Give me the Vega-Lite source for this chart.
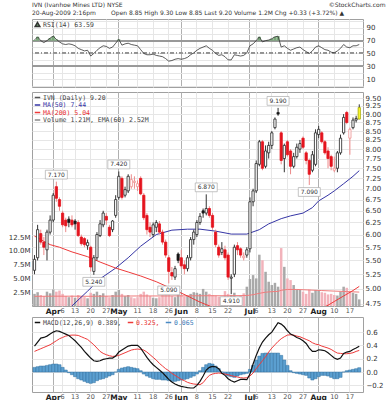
{
"$schema": "https://vega.github.io/schema/vega-lite/v6.json",
"background": "white",
"padding": {"left": 7, "top": 1, "right": 2, "bottom": 0},
"spacing": 1,
"datasets": {
"px": [
{"d":"2009-03-24","o":5.32,"h":5.6,"l":5.25,"c":5.52,"v":2.2,"rsi":71,"m":0.39,"s":0.31,"hi":0.07},
{"d":"2009-03-25","o":5.55,"h":6.2,"l":5.5,"c":6.1,"v":2.5,"rsi":76,"m":0.45,"s":0.33,"hi":0.08},
{"d":"2009-03-26","o":6.02,"h":6.1,"l":5.8,"c":5.85,"v":2.0,"rsi":70,"m":0.51,"s":0.35,"hi":0.09},
{"d":"2009-03-27","o":5.85,"h":5.95,"l":5.6,"c":5.75,"v":1.8,"rsi":67,"m":0.52,"s":0.37,"hi":0.09},
{"d":"2009-03-30","o":5.7,"h":6.1,"l":5.5,"c":6.05,"v":2.6,"rsi":70,"m":0.54,"s":0.39,"hi":0.1},
{"d":"2009-03-31","o":6.05,"h":6.4,"l":6.0,"c":6.3,"v":2.3,"rsi":74,"m":0.57,"s":0.41,"hi":0.11},
{"d":"2009-04-01","o":6.3,"h":6.9,"l":6.25,"c":6.85,"v":3.0,"rsi":77,"m":0.6,"s":0.44,"hi":0.12},
{"d":"2009-04-02","o":7.05,"h":7.17,"l":6.7,"c":6.78,"v":2.6,"rsi":72,"m":0.62,"s":0.47,"hi":0.12},
{"d":"2009-04-03","o":6.75,"h":6.8,"l":6.5,"c":6.6,"v":2.8,"rsi":68,"m":0.61,"s":0.5,"hi":0.11},
{"d":"2009-04-06","o":6.45,"h":6.5,"l":6.15,"c":6.2,"v":2.2,"rsi":65,"m":0.59,"s":0.52,"hi":0.07},
{"d":"2009-04-07","o":6.3,"h":6.35,"l":6.05,"c":6.18,"v":1.8,"rsi":64,"m":0.57,"s":0.54,"hi":0.03},
{"d":"2009-04-08","o":6.32,"h":6.38,"l":6.15,"c":6.25,"v":1.6,"rsi":65,"m":0.55,"s":0.55,"hi":-0.01},
{"d":"2009-04-09","o":6.3,"h":6.4,"l":6.15,"c":6.2,"v":1.9,"rsi":64,"m":0.51,"s":0.555,"hi":-0.04},
{"d":"2009-04-13","o":6.28,"h":6.32,"l":6.1,"c":6.22,"v":1.5,"rsi":62,"m":0.47,"s":0.555,"hi":-0.07},
{"d":"2009-04-14","o":6.25,"h":6.3,"l":5.95,"c":5.98,"v":2.0,"rsi":58,"m":0.42,"s":0.55,"hi":-0.1},
{"d":"2009-04-15","o":5.95,"h":6.0,"l":5.78,"c":5.82,"v":1.7,"rsi":56,"m":0.37,"s":0.53,"hi":-0.12},
{"d":"2009-04-16","o":5.92,"h":5.95,"l":5.75,"c":5.8,"v":1.6,"rsi":54,"m":0.31,"s":0.51,"hi":-0.14},
{"d":"2009-04-17","o":5.78,"h":5.9,"l":5.7,"c":5.84,"v":1.4,"rsi":55,"m":0.26,"s":0.49,"hi":-0.16},
{"d":"2009-04-20","o":5.75,"h":5.78,"l":5.3,"c":5.38,"v":2.4,"rsi":46,"m":0.21,"s":0.45,"hi":-0.17},
{"d":"2009-04-21","o":5.3,"h":5.6,"l":5.24,"c":5.55,"v":2.2,"rsi":50,"m":0.17,"s":0.41,"hi":-0.16},
{"d":"2009-04-22","o":5.55,"h":6.05,"l":5.5,"c":6.0,"v":2.6,"rsi":55,"m":0.16,"s":0.36,"hi":-0.13},
{"d":"2009-04-23","o":5.98,"h":6.3,"l":5.95,"c":6.22,"v":2.0,"rsi":59,"m":0.17,"s":0.31,"hi":-0.11},
{"d":"2009-04-24","o":6.2,"h":6.5,"l":6.15,"c":6.45,"v":2.3,"rsi":62,"m":0.19,"s":0.28,"hi":-0.1},
{"d":"2009-04-27","o":6.38,"h":6.45,"l":6.2,"c":6.3,"v":1.8,"rsi":61,"m":0.2,"s":0.26,"hi":-0.08},
{"d":"2009-04-28","o":6.15,"h":6.2,"l":5.95,"c":5.98,"v":1.6,"rsi":58,"m":0.21,"s":0.245,"hi":-0.06},
{"d":"2009-04-29","o":6.1,"h":6.3,"l":6.05,"c":6.28,"v":2.0,"rsi":60,"m":0.21,"s":0.235,"hi":-0.04},
{"d":"2009-04-30","o":6.4,"h":6.85,"l":6.35,"c":6.75,"v":2.6,"rsi":66,"m":0.24,"s":0.24,"hi":0.0},
{"d":"2009-05-01","o":6.8,"h":7.42,"l":6.75,"c":7.3,"v":2.9,"rsi":72,"m":0.3,"s":0.25,"hi":0.04},
{"d":"2009-05-04","o":7.25,"h":7.3,"l":6.75,"c":6.8,"v":2.2,"rsi":63,"m":0.33,"s":0.27,"hi":0.06},
{"d":"2009-05-05","o":6.85,"h":7.05,"l":6.8,"c":6.98,"v":1.8,"rsi":65,"m":0.36,"s":0.29,"hi":0.07},
{"d":"2009-05-06","o":6.95,"h":7.35,"l":6.9,"c":7.3,"v":2.0,"rsi":66,"m":0.39,"s":0.31,"hi":0.08},
{"d":"2009-05-07","o":7.05,"h":7.35,"l":7.0,"c":7.22,"v":1.6,"rsi":64,"m":0.4,"s":0.33,"hi":0.07},
{"d":"2009-05-08","o":7.15,"h":7.3,"l":7.0,"c":7.18,"v":1.4,"rsi":63,"m":0.4,"s":0.34,"hi":0.06},
{"d":"2009-05-11","o":7.05,"h":7.2,"l":6.95,"c":7.12,"v":1.6,"rsi":62,"m":0.4,"s":0.345,"hi":0.05},
{"d":"2009-05-12","o":7.25,"h":7.3,"l":6.85,"c":6.88,"v":2.2,"rsi":56,"m":0.36,"s":0.34,"hi":0.02},
{"d":"2009-05-13","o":6.85,"h":6.9,"l":6.3,"c":6.35,"v":2.6,"rsi":50,"m":0.29,"s":0.33,"hi":-0.03},
{"d":"2009-05-14","o":6.4,"h":6.45,"l":6.0,"c":6.1,"v":2.1,"rsi":48,"m":0.22,"s":0.3,"hi":-0.06},
{"d":"2009-05-15","o":6.15,"h":6.25,"l":5.95,"c":6.05,"v":1.8,"rsi":48,"m":0.16,"s":0.26,"hi":-0.08},
{"d":"2009-05-18","o":6.0,"h":6.25,"l":5.95,"c":6.2,"v":1.5,"rsi":49,"m":0.11,"s":0.22,"hi":-0.1},
{"d":"2009-05-19","o":6.15,"h":6.3,"l":6.05,"c":6.25,"v":1.4,"rsi":47,"m":0.07,"s":0.18,"hi":-0.11},
{"d":"2009-05-20","o":6.22,"h":6.28,"l":6.0,"c":6.05,"v":1.6,"rsi":46,"m":0.03,"s":0.13,"hi":-0.11},
{"d":"2009-05-21","o":6.05,"h":6.1,"l":5.8,"c":5.85,"v":2.0,"rsi":45,"m":-0.01,"s":0.09,"hi":-0.12},
{"d":"2009-05-22","o":5.85,"h":5.9,"l":5.55,"c":5.6,"v":2.4,"rsi":42,"m":-0.06,"s":0.05,"hi":-0.12},
{"d":"2009-05-26","o":5.55,"h":5.6,"l":5.09,"c":5.3,"v":3.2,"rsi":38,"m":-0.11,"s":0.02,"hi":-0.13},
{"d":"2009-05-27","o":5.28,"h":5.38,"l":5.15,"c":5.22,"v":1.8,"rsi":39,"m":-0.15,"s":-0.02,"hi":-0.14},
{"d":"2009-05-28","o":5.2,"h":5.4,"l":5.15,"c":5.35,"v":1.6,"rsi":41,"m":-0.18,"s":-0.05,"hi":-0.14},
{"d":"2009-05-29","o":5.62,"h":5.65,"l":5.45,"c":5.5,"v":2.4,"rsi":42,"m":-0.2,"s":-0.08,"hi":-0.13},
{"d":"2009-06-01","o":5.55,"h":5.7,"l":5.35,"c":5.4,"v":2.0,"rsi":41,"m":-0.215,"s":-0.11,"hi":-0.12},
{"d":"2009-06-02","o":5.42,"h":5.5,"l":5.25,"c":5.35,"v":1.7,"rsi":42,"m":-0.225,"s":-0.13,"hi":-0.11},
{"d":"2009-06-03","o":5.35,"h":5.6,"l":5.3,"c":5.55,"v":1.9,"rsi":44,"m":-0.235,"s":-0.155,"hi":-0.1},
{"d":"2009-06-04","o":5.55,"h":5.95,"l":5.5,"c":5.9,"v":2.2,"rsi":48,"m":-0.24,"s":-0.17,"hi":-0.08},
{"d":"2009-06-05","o":5.9,"h":6.1,"l":5.8,"c":6.05,"v":2.5,"rsi":51,"m":-0.24,"s":-0.18,"hi":-0.06},
{"d":"2009-06-08","o":6.0,"h":6.3,"l":5.95,"c":6.25,"v":2.4,"rsi":55,"m":-0.2,"s":-0.185,"hi":-0.03},
{"d":"2009-06-09","o":6.25,"h":6.45,"l":6.2,"c":6.38,"v":2.2,"rsi":58,"m":-0.14,"s":-0.19,"hi":0.02},
{"d":"2009-06-10","o":6.5,"h":6.55,"l":6.35,"c":6.45,"v":3.1,"rsi":60,"m":-0.06,"s":-0.16,"hi":0.07},
{"d":"2009-06-11","o":6.45,"h":6.87,"l":6.4,"c":6.55,"v":2.6,"rsi":62,"m":0.03,"s":-0.1,"hi":0.11},
{"d":"2009-06-12","o":6.55,"h":6.6,"l":6.35,"c":6.4,"v":2.2,"rsi":58,"m":0.07,"s":-0.05,"hi":0.13},
{"d":"2009-06-15","o":6.4,"h":6.45,"l":6.1,"c":6.15,"v":2.0,"rsi":55,"m":0.085,"s":-0.03,"hi":0.12},
{"d":"2009-06-16","o":6.05,"h":6.1,"l":5.75,"c":5.8,"v":1.9,"rsi":50,"m":0.08,"s":-0.02,"hi":0.09},
{"d":"2009-06-17","o":5.75,"h":5.8,"l":5.55,"c":5.6,"v":1.7,"rsi":47,"m":0.05,"s":-0.015,"hi":0.05},
{"d":"2009-06-18","o":5.65,"h":5.85,"l":5.6,"c":5.72,"v":1.6,"rsi":48,"m":-0.02,"s":-0.02,"hi":0.0},
{"d":"2009-06-19","o":5.7,"h":5.78,"l":5.5,"c":5.55,"v":2.7,"rsi":45,"m":-0.05,"s":-0.03,"hi":-0.03},
{"d":"2009-06-22","o":5.6,"h":5.65,"l":5.15,"c":5.2,"v":2.2,"rsi":40,"m":-0.1,"s":-0.04,"hi":-0.06},
{"d":"2009-06-23","o":5.18,"h":5.25,"l":4.91,"c":5.2,"v":2.0,"rsi":40,"m":-0.13,"s":-0.055,"hi":-0.07},
{"d":"2009-06-24","o":5.25,"h":5.8,"l":5.2,"c":5.75,"v":2.4,"rsi":48,"m":-0.15,"s":-0.065,"hi":-0.08},
{"d":"2009-06-25","o":5.78,"h":5.85,"l":5.6,"c":5.7,"v":1.5,"rsi":47,"m":-0.13,"s":-0.075,"hi":-0.06},
{"d":"2009-06-26","o":5.72,"h":5.75,"l":5.55,"c":5.6,"v":1.8,"rsi":46,"m":-0.11,"s":-0.085,"hi":-0.04},
{"d":"2009-06-29","o":5.55,"h":5.65,"l":5.5,"c":5.58,"v":2.3,"rsi":47,"m":-0.11,"s":-0.09,"hi":-0.03},
{"d":"2009-06-30","o":5.6,"h":5.75,"l":5.55,"c":5.7,"v":3.5,"rsi":51,"m":-0.115,"s":-0.085,"hi":-0.02},
{"d":"2009-07-01","o":5.72,"h":6.8,"l":5.65,"c":6.7,"v":4.9,"rsi":62,"m":-0.03,"s":-0.06,"hi":0.04},
{"d":"2009-07-02","o":6.7,"h":7.0,"l":6.6,"c":6.95,"v":5.6,"rsi":65,"m":0.12,"s":-0.015,"hi":0.1},
{"d":"2009-07-06","o":6.95,"h":7.7,"l":6.9,"c":7.62,"v":5.0,"rsi":70,"m":0.25,"s":0.05,"hi":0.18},
{"d":"2009-07-07","o":7.6,"h":8.25,"l":7.55,"c":8.2,"v":9.3,"rsi":76,"m":0.36,"s":0.11,"hi":0.24},
{"d":"2009-07-08","o":8.2,"h":8.25,"l":7.45,"c":7.5,"v":8.3,"rsi":68,"m":0.45,"s":0.17,"hi":0.28},
{"d":"2009-07-09","o":7.55,"h":8.1,"l":7.5,"c":7.95,"v":6.2,"rsi":70,"m":0.51,"s":0.23,"hi":0.285},
{"d":"2009-07-10","o":7.9,"h":8.2,"l":7.75,"c":8.1,"v":4.4,"rsi":71,"m":0.56,"s":0.3,"hi":0.285},
{"d":"2009-07-13","o":8.1,"h":8.5,"l":8.0,"c":8.45,"v":3.8,"rsi":73,"m":0.6,"s":0.36,"hi":0.285},
{"d":"2009-07-14","o":8.6,"h":8.9,"l":8.55,"c":8.85,"v":4.2,"rsi":76,"m":0.67,"s":0.41,"hi":0.285},
{"d":"2009-07-15","o":9.05,"h":9.19,"l":8.95,"c":9.0,"v":3.5,"rsi":77,"m":0.74,"s":0.46,"hi":0.285},
{"d":"2009-07-16","o":8.45,"h":8.5,"l":7.6,"c":7.7,"v":10.5,"rsi":60,"m":0.72,"s":0.5,"hi":0.25},
{"d":"2009-07-17","o":7.75,"h":8.15,"l":7.4,"c":8.1,"v":7.1,"rsi":62,"m":0.68,"s":0.53,"hi":0.18},
{"d":"2009-07-20","o":8.2,"h":8.25,"l":7.8,"c":7.85,"v":5.0,"rsi":58,"m":0.62,"s":0.555,"hi":0.1},
{"d":"2009-07-21","o":7.95,"h":8.0,"l":7.35,"c":7.55,"v":4.7,"rsi":55,"m":0.57,"s":0.56,"hi":0.02},
{"d":"2009-07-22","o":7.55,"h":7.9,"l":7.5,"c":7.8,"v":3.8,"rsi":57,"m":0.55,"s":0.555,"hi":-0.01},
{"d":"2009-07-23","o":7.8,"h":8.15,"l":7.75,"c":8.05,"v":3.0,"rsi":59,"m":0.52,"s":0.54,"hi":-0.02},
{"d":"2009-07-24","o":8.0,"h":8.25,"l":7.9,"c":8.15,"v":2.9,"rsi":60,"m":0.5,"s":0.53,"hi":-0.03},
{"d":"2009-07-27","o":8.3,"h":8.35,"l":8.0,"c":8.05,"v":2.6,"rsi":56,"m":0.47,"s":0.51,"hi":-0.04},
{"d":"2009-07-28","o":7.9,"h":7.95,"l":7.6,"c":7.7,"v":2.2,"rsi":53,"m":0.43,"s":0.49,"hi":-0.05},
{"d":"2009-07-29","o":7.7,"h":7.75,"l":7.09,"c":7.35,"v":3.0,"rsi":50,"m":0.36,"s":0.47,"hi":-0.09},
{"d":"2009-07-30","o":7.45,"h":7.95,"l":7.4,"c":7.85,"v":2.4,"rsi":54,"m":0.31,"s":0.44,"hi":-0.12},
{"d":"2009-07-31","o":7.6,"h":8.55,"l":7.55,"c":8.45,"v":2.9,"rsi":60,"m":0.31,"s":0.42,"hi":-0.1},
{"d":"2009-08-03","o":8.4,"h":8.65,"l":8.3,"c":8.55,"v":2.8,"rsi":62,"m":0.335,"s":0.41,"hi":-0.07},
{"d":"2009-08-04","o":8.45,"h":8.5,"l":8.15,"c":8.2,"v":2.5,"rsi":59,"m":0.33,"s":0.39,"hi":-0.05},
{"d":"2009-08-05","o":8.2,"h":8.25,"l":7.85,"c":7.9,"v":2.4,"rsi":56,"m":0.32,"s":0.375,"hi":-0.05},
{"d":"2009-08-06","o":7.95,"h":8.05,"l":7.5,"c":7.75,"v":2.1,"rsi":55,"m":0.29,"s":0.36,"hi":-0.06},
{"d":"2009-08-07","o":7.8,"h":7.85,"l":7.45,"c":7.55,"v":2.2,"rsi":52,"m":0.25,"s":0.34,"hi":-0.08},
{"d":"2009-08-10","o":7.45,"h":7.8,"l":7.4,"c":7.5,"v":2.0,"rsi":51,"m":0.21,"s":0.31,"hi":-0.1},
{"d":"2009-08-11","o":7.5,"h":7.95,"l":7.4,"c":7.9,"v":1.9,"rsi":54,"m":0.19,"s":0.285,"hi":-0.1},
{"d":"2009-08-12","o":7.9,"h":8.4,"l":7.85,"c":8.3,"v":2.6,"rsi":58,"m":0.21,"s":0.28,"hi":-0.08},
{"d":"2009-08-13","o":8.45,"h":9.0,"l":8.4,"c":8.9,"v":3.5,"rsi":64,"m":0.28,"s":0.275,"hi":0.0},
{"d":"2009-08-14","o":9.05,"h":9.1,"l":8.7,"c":8.75,"v":3.3,"rsi":60,"m":0.3,"s":0.275,"hi":0.02},
{"d":"2009-08-17","o":8.3,"h":8.6,"l":7.85,"c":8.55,"v":2.6,"rsi":59,"m":0.31,"s":0.28,"hi":0.03},
{"d":"2009-08-18","o":8.6,"h":8.9,"l":8.55,"c":8.82,"v":2.4,"rsi":62,"m":0.34,"s":0.29,"hi":0.04},
{"d":"2009-08-19","o":8.82,"h":8.95,"l":8.75,"c":8.87,"v":2.2,"rsi":62,"m":0.36,"s":0.31,"hi":0.05},
{"d":"2009-08-20","o":8.85,"h":9.3,"l":8.85,"c":9.2,"v":1.2,"rsi":64,"m":0.389,"s":0.325,"hi":0.065}
],
"ma": [
{"d":"2009-03-24","ma50":4.3,"ma200":5.97},
{"d":"2009-03-31","ma50":4.42,"ma200":5.8},
{"d":"2009-04-03","ma50":4.52,"ma200":5.75},
{"d":"2009-04-09","ma50":4.72,"ma200":5.66},
{"d":"2009-04-17","ma50":4.96,"ma200":5.57},
{"d":"2009-04-23","ma50":5.17,"ma200":5.47},
{"d":"2009-04-30","ma50":5.36,"ma200":5.36},
{"d":"2009-05-06","ma50":5.55,"ma200":5.29},
{"d":"2009-05-12","ma50":5.77,"ma200":5.22},
{"d":"2009-05-19","ma50":6.0,"ma200":5.12},
{"d":"2009-05-27","ma50":6.09,"ma200":5.0},
{"d":"2009-06-03","ma50":6.11,"ma200":4.88},
{"d":"2009-06-09","ma50":6.11,"ma200":4.78},
{"d":"2009-06-16","ma50":6.07,"ma200":4.68},
{"d":"2009-06-23","ma50":6.01,"ma200":4.6},
{"d":"2009-06-30","ma50":6.01,"ma200":4.55},
{"d":"2009-07-07","ma50":6.1,"ma200":4.52},
{"d":"2009-07-10","ma50":6.22,"ma200":4.52},
{"d":"2009-07-16","ma50":6.33,"ma200":4.53},
{"d":"2009-07-21","ma50":6.39,"ma200":4.55},
{"d":"2009-07-27","ma50":6.45,"ma200":4.58},
{"d":"2009-07-30","ma50":6.57,"ma200":4.62},
{"d":"2009-08-03","ma50":6.72,"ma200":4.66},
{"d":"2009-08-06","ma50":6.85,"ma200":4.73},
{"d":"2009-08-10","ma50":6.95,"ma200":4.79},
{"d":"2009-08-13","ma50":7.12,"ma200":4.88},
{"d":"2009-08-18","ma50":7.3,"ma200":4.97},
{"d":"2009-08-20","ma50":7.44,"ma200":5.04}
],
"vema": [
{"d":"2009-03-24","ve":1.75},{"d":"2009-04-01","ve":1.78},{"d":"2009-04-09","ve":1.78},{"d":"2009-04-20","ve":1.76},
{"d":"2009-04-30","ve":1.8},{"d":"2009-05-12","ve":1.82},{"d":"2009-05-22","ve":1.82},{"d":"2009-06-04","ve":1.84},
{"d":"2009-06-12","ve":1.86},{"d":"2009-06-22","ve":1.86},{"d":"2009-06-30","ve":1.9},{"d":"2009-07-02","ve":2.05},
{"d":"2009-07-07","ve":2.3},{"d":"2009-07-09","ve":2.5},{"d":"2009-07-13","ve":2.6},{"d":"2009-07-15","ve":2.65},
{"d":"2009-07-16","ve":2.85},{"d":"2009-07-20","ve":3.0},{"d":"2009-07-23","ve":3.0},{"d":"2009-07-29","ve":2.9},
{"d":"2009-08-04","ve":2.8},{"d":"2009-08-10","ve":2.7},{"d":"2009-08-14","ve":2.62},{"d":"2009-08-20","ve":2.52}
],
"hl": [
{"d":"2009-04-02","p":7.17},{"d":"2009-05-01","p":7.42},{"d":"2009-06-11","p":6.87},{"d":"2009-07-15","p":9.19}
],
"ll": [
{"d":"2009-04-21","p":5.24},{"d":"2009-05-26","p":5.09},{"d":"2009-06-23","p":4.91},{"d":"2009-07-29","p":7.09}
]
},
"vconcat": [
{
"width": 331, "height": 68,
"title": {
"text": "IVN (Ivanhoe Mines LTD) NYSE\u00a0\u00a0\u00a0\u00a0\u00a0\u00a0\u00a0\u00a0\u00a0\u00a0\u00a0\u00a0\u00a0\u00a0\u00a0\u00a0\u00a0\u00a0\u00a0\u00a0\u00a0\u00a0\u00a0\u00a0\u00a0\u00a0\u00a0\u00a0\u00a0\u00a0\u00a0\u00a0\u00a0\u00a0\u00a0\u00a0\u00a0\u00a0\u00a0\u00a0\u00a0\u00a0\u00a0\u00a0\u00a0\u00a0\u00a0\u00a0\u00a0\u00a0\u00a0\u00a0\u00a0\u00a0\u00a0\u00a0\u00a0\u00a0\u00a0\u00a0\u00a0\u00a0\u00a0\u00a0\u00a0\u00a0\u00a0\u00a0\u00a0\u00a0\u00a0\u00a0\u00a0\u00a0\u00a0\u00a0\u00a0\u00a0\u00a0\u00a0\u00a0\u00a0\u00a0\u00a0\u00a0\u00a0\u00a0\u00a0\u00a0\u00a0\u00a0\u00a0\u00a0\u00a0\u00a0\u00a0\u00a0\u00a0\u00a0\u00a0\u00a0\u00a0\u00a0\u00a0\u00a0\u00a0\u00a0\u00a0©StockCharts.com",
"subtitle": "20-Aug-2009 2:16pm\u00a0\u00a0\u00a0\u00a0\u00a0\u00a0\u00a0\u00a0Open 8.85 High 9.30 Low 8.85 Last 9.20 Volume 1.2M Chg +0.33 (+3.72%) ▲",
"anchor": "start", "frame": "group",
"font": "DejaVu Sans", "fontSize": 6, "fontWeight": "normal", "color": "#333",
"subtitleFont": "DejaVu Sans", "subtitleFontSize": 6, "subtitleColor": "#333",
"subtitlePadding": 2, "offset": 1
},
"data": {"name": "px"},
"layer": [
{"mark": {"type": "rule", "color": "#999", "strokeWidth": 1},
 "encoding": {"y": {"datum": 70, "type": "quantitative", "scale": {"domain": [-2.3, 103.8], "nice": false, "zero": false},
   "axis": {"orient": "right", "values": [0,10,20,30,40,50,60,70,80,90,100], "labelExpr": "datum.value % 20 == 10 ? '' + datum.value : ''", "labelOverlap": false, "grid": true, "title": null, "labelPadding": 3}}}},
{"mark": {"type": "rule", "color": "#999", "strokeWidth": 1},
 "encoding": {"y": {"datum": 30, "type": "quantitative",
   "axis": {"orient": "right", "values": [0,10,20,30,40,50,60,70,80,90,100], "labelExpr": "datum.value % 20 == 10 ? '' + datum.value : ''", "labelOverlap": false, "grid": true, "title": null, "labelPadding": 3}}}},
{"mark": {"type": "rule", "color": "#999", "strokeWidth": 1, "strokeDash": [4, 2, 1, 2]},
 "encoding": {"y": {"datum": 50, "type": "quantitative",
   "axis": {"orient": "right", "values": [0,10,20,30,40,50,60,70,80,90,100], "labelExpr": "datum.value % 20 == 10 ? '' + datum.value : ''", "labelOverlap": false, "grid": true, "title": null, "labelPadding": 3}}}},
{"transform": [{"filter": "datum.rsi > 70"}],
 "mark": {"type": "bar", "color": "#7aa87a", "width": {"band": 1}},
 "encoding": {
  "x": {"field": "d", "type": "ordinal", "scale": {"type": "band", "paddingInner": 0, "paddingOuter": 0.5, "align": 0.3}},
  "y": {"field": "rsi", "type": "quantitative",
   "axis": {"orient": "right", "values": [0,10,20,30,40,50,60,70,80,90,100], "labelExpr": "datum.value % 20 == 10 ? '' + datum.value : ''", "labelOverlap": false, "grid": true, "title": null, "labelPadding": 3}},
  "y2": {"datum": 70}}},
{"mark": {"type": "line", "strokeWidth": 0.8},
 "encoding": {
  "x": {"field": "d", "type": "ordinal", "scale": {"type": "band", "paddingInner": 0, "paddingOuter": 0.5, "align": 0.3},
   "axis": {"values": ["2009-04-01","2009-04-06","2009-04-13","2009-04-20","2009-04-27","2009-05-01","2009-05-11","2009-05-18","2009-05-26","2009-06-01","2009-06-08","2009-06-15","2009-06-22","2009-07-01","2009-07-06","2009-07-13","2009-07-20","2009-07-27","2009-08-03","2009-08-10","2009-08-17"],
    "labels": false, "grid": true, "title": null, "bandPosition": 0.5,
    "gridColor": {"condition": {"test": "indexof(['2009-04-01','2009-05-01','2009-06-01','2009-07-01','2009-08-03'], datum.value) >= 0", "value": "#b0b0b0"}, "value": "#e6e6e6"}}},
  "y": {"field": "rsi", "type": "quantitative",
   "axis": {"orient": "right", "values": [0,10,20,30,40,50,60,70,80,90,100], "labelExpr": "datum.value % 20 == 10 ? '' + datum.value : ''", "labelOverlap": false, "grid": true, "title": null, "labelPadding": 3}},
  "color": {"datum": "RSI(14) 63.59", "scale": {"range": ["#333"]},
   "legend": {"orient": "top-left", "offset": 2, "title": null, "symbolType": "triangle-up", "symbolFillColor": "#6a9a6a", "symbolStrokeColor": "#557755", "symbolSize": 22}}}}
]
},
{
"width": 331, "height": 214,
"encoding": {
 "x": {"field": "d", "type": "ordinal", "scale": {"type": "band", "paddingInner": 0, "paddingOuter": 0.5, "align": 0.3},
  "axis": {"values": ["2009-04-01","2009-04-06","2009-04-13","2009-04-20","2009-04-27","2009-05-01","2009-05-11","2009-05-18","2009-05-26","2009-06-01","2009-06-08","2009-06-15","2009-06-22","2009-07-01","2009-07-06","2009-07-13","2009-07-20","2009-07-27","2009-08-03","2009-08-10","2009-08-17"],
   "labelExpr": "indexof(['2009-04-01','2009-05-01','2009-06-01','2009-07-01','2009-08-03'], datum.value) >= 0 ? ['','Jan','Feb','Mar','Apr','May','Jun','Jul','Aug'][toNumber(slice(datum.value,5,7))] : '' + toNumber(slice(datum.value,8))",
   "labelFontWeight": {"condition": {"test": "indexof(['2009-04-01','2009-05-01','2009-06-01','2009-07-01','2009-08-03'], datum.value) >= 0", "value": "bold"}, "value": "normal"},
   "labelFontSize": {"condition": {"test": "indexof(['2009-04-01','2009-05-01','2009-06-01','2009-07-01','2009-08-03'], datum.value) >= 0", "value": 7.5}, "value": 6.5},
   "labelColor": {"condition": {"test": "indexof(['2009-04-01','2009-05-01','2009-06-01','2009-07-01','2009-08-03'], datum.value) >= 0", "value": "#222"}, "value": "#555"},
   "gridColor": {"condition": {"test": "indexof(['2009-04-01','2009-05-01','2009-06-01','2009-07-01','2009-08-03'], datum.value) >= 0", "value": "#b0b0b0"}, "value": "#e6e6e6"},
   "grid": true, "labelAngle": 0, "labelPadding": 1, "labelOverlap": false, "labelBound": false, "title": null, "bandPosition": 0.5}}
},
"layer": [
 {"layer": [
  {"data": {"name": "px"},
   "transform": [{"window": [{"op": "lag", "field": "c", "as": "pc"}], "sort": [{"field": "d", "order": "ascending"}]}],
   "mark": {"type": "bar", "width": {"band": 0.8}},
   "encoding": {
    "y": {"field": "v", "type": "quantitative", "scale": {"domain": [0, 38.8], "nice": false, "zero": false},
     "axis": {"orient": "left", "values": [2.5, 5, 7.5, 10, 12.5], "labelExpr": "format(datum.value, '.1f') + 'M'", "labelOverlap": false, "grid": false, "title": null, "labelPadding": 2}},
    "fill": {"condition": {"test": "datum.c < datum.pc", "value": "#f2b3bb"}, "value": "#a9a9a9"}}},
  {"data": {"name": "vema"},
   "mark": {"type": "line", "color": "#f07c7c", "strokeWidth": 1},
   "encoding": {"y": {"field": "ve", "type": "quantitative", "axis": {"title": null}}}}
 ]},
 {"layer": [
  {"data": {"name": "ma"},
   "mark": {"type": "line", "clip": true, "strokeWidth": 1},
   "encoding": {
    "y": {"field": "ma50", "type": "quantitative"},
    "color": {"datum": "MA(50) 7.44",
     "scale": {"domain": ["IVN (Daily) 9.20", "MA(50) 7.44", "MA(200) 5.04", "Volume 1.21M, EMA(60) 2.52M"], "range": ["#555", "#3535a5", "#ee3a3a", "#888"]},
     "legend": {"orient": "top-left", "offset": 2, "title": null, "symbolType": "stroke", "symbolSize": 30, "symbolStrokeWidth": 1.5,
      "labelColor": {"expr": "datum.label == 'MA(50) 7.44' ? '#3535a5' : datum.label == 'MA(200) 5.04' ? '#e83030' : '#444'"}}}}},
  {"data": {"name": "ma"},
   "mark": {"type": "line", "clip": true, "strokeWidth": 1},
   "encoding": {
    "y": {"field": "ma200", "type": "quantitative"},
    "color": {"datum": "MA(200) 5.04"}}},
  {"data": {"name": "px"},
   "transform": [{"window": [{"op": "lag", "field": "c", "as": "pc"}], "sort": [{"field": "d", "order": "ascending"}]}],
   "mark": {"type": "rule", "strokeWidth": 1},
   "encoding": {
    "y": {"field": "l", "type": "quantitative", "scale": {"type": "log", "domain": [4.718, 9.695], "nice": false, "zero": false},
     "axis": {"orient": "right", "values": [4.75,5,5.25,5.5,5.75,6,6.25,6.5,6.75,7,7.25,7.5,7.75,8,8.25,8.5,8.75,9,9.25,9.5], "format": ".2f", "labelOverlap": false, "grid": true, "title": null, "labelPadding": 2}},
    "y2": {"field": "h"},
    "stroke": {"condition": [{"test": "datum.d == '2009-08-20'", "value": "#333"}, {"test": "datum.c < datum.pc", "value": "#ec8a8a"}], "value": "#333"}}},
  {"data": {"name": "px"},
   "transform": [{"window": [{"op": "lag", "field": "c", "as": "pc"}], "sort": [{"field": "d", "order": "ascending"}]}],
   "mark": {"type": "bar", "width": {"band": 0.72}, "strokeWidth": 0.8},
   "encoding": {
    "y": {"field": "o", "type": "quantitative"},
    "y2": {"field": "c"},
    "fill": {"condition": [{"test": "datum.d == '2009-08-20'", "value": "#ffff33"}, {"test": "datum.c >= datum.o", "value": "white"}, {"test": "datum.c < datum.pc", "value": "#e4141e"}], "value": "#111"},
    "stroke": {"condition": [{"test": "datum.d == '2009-08-20'", "value": "#a8a800"}, {"test": "datum.c < datum.pc && datum.c >= datum.o", "value": "#ee9090"}, {"test": "datum.c < datum.pc", "value": "#e4141e"}], "value": "#222"}}},
  {"data": {"name": "hl"},
   "mark": {"type": "point", "shape": "M-1,-0.4H1V0.4H-1Z", "filled": true, "fill": "white", "stroke": "#aaa", "strokeWidth": 0.7, "size": 484, "opacity": 1, "yOffset": -7},
   "encoding": {"y": {"field": "p", "type": "quantitative"}}},
  {"data": {"name": "hl"},
   "mark": {"type": "text", "font": "DejaVu Sans", "fontSize": 6, "color": "#333", "yOffset": -7, "baseline": "middle"},
   "encoding": {"y": {"field": "p", "type": "quantitative"}, "text": {"field": "p", "type": "quantitative", "format": ".3f"}}},
  {"data": {"name": "ll"},
   "mark": {"type": "point", "shape": "M-1,-0.4H1V0.4H-1Z", "filled": true, "fill": "white", "stroke": "#aaa", "strokeWidth": 0.7, "size": 484, "opacity": 1, "yOffset": 7},
   "encoding": {"y": {"field": "p", "type": "quantitative"}}},
  {"data": {"name": "ll"},
   "mark": {"type": "text", "font": "DejaVu Sans", "fontSize": 6, "color": "#333", "yOffset": 7, "baseline": "middle"},
   "encoding": {"y": {"field": "p", "type": "quantitative"}, "text": {"field": "p", "type": "quantitative", "format": ".3f"}}}
 ]}
],
"resolve": {"scale": {"y": "independent"}}
},
{
"width": 331, "height": 75,
"data": {"name": "px"},
"encoding": {
 "x": {"field": "d", "type": "ordinal", "scale": {"type": "band", "paddingInner": 0, "paddingOuter": 0.5, "align": 0.3},
  "axis": {"values": ["2009-04-01","2009-04-06","2009-04-13","2009-04-20","2009-04-27","2009-05-01","2009-05-11","2009-05-18","2009-05-26","2009-06-01","2009-06-08","2009-06-15","2009-06-22","2009-07-01","2009-07-06","2009-07-13","2009-07-20","2009-07-27","2009-08-03","2009-08-10","2009-08-17"],
   "labelExpr": "indexof(['2009-04-01','2009-05-01','2009-06-01','2009-07-01','2009-08-03'], datum.value) >= 0 ? ['','Jan','Feb','Mar','Apr','May','Jun','Jul','Aug'][toNumber(slice(datum.value,5,7))] : '' + toNumber(slice(datum.value,8))",
   "labelFontWeight": {"condition": {"test": "indexof(['2009-04-01','2009-05-01','2009-06-01','2009-07-01','2009-08-03'], datum.value) >= 0", "value": "bold"}, "value": "normal"},
   "labelFontSize": {"condition": {"test": "indexof(['2009-04-01','2009-05-01','2009-06-01','2009-07-01','2009-08-03'], datum.value) >= 0", "value": 7.5}, "value": 6.5},
   "labelColor": {"condition": {"test": "indexof(['2009-04-01','2009-05-01','2009-06-01','2009-07-01','2009-08-03'], datum.value) >= 0", "value": "#222"}, "value": "#555"},
   "gridColor": {"condition": {"test": "indexof(['2009-04-01','2009-05-01','2009-06-01','2009-07-01','2009-08-03'], datum.value) >= 0", "value": "#b0b0b0"}, "value": "#e6e6e6"},
   "grid": true, "labelAngle": 0, "labelPadding": 1, "labelOverlap": false, "labelBound": false, "title": null, "bandPosition": 0.5}}
},
"layer": [
 {"mark": {"type": "bar", "width": {"band": 1}, "fill": "#5b9fd0", "stroke": "#2f6f9f", "strokeWidth": 0.5},
  "encoding": {
   "y": {"field": "hi", "type": "quantitative", "scale": {"domain": [-0.3, 0.827], "nice": false, "zero": false},
    "axis": {"orient": "right", "values": [-0.2, 0, 0.2, 0.4, 0.6], "format": ".1f", "labelOverlap": false, "grid": true, "title": null, "labelPadding": 3}},
   "y2": {"datum": 0}}},
 {"mark": {"type": "line", "strokeWidth": 1},
  "encoding": {"y": {"field": "s", "type": "quantitative",
    "axis": {"orient": "right", "values": [-0.2, 0, 0.2, 0.4, 0.6], "format": ".1f", "labelOverlap": false, "grid": true, "title": null, "labelPadding": 3}},
   "color": {"datum": "0.325,"}}},
 {"mark": {"type": "line", "strokeWidth": 1.2},
  "encoding": {"y": {"field": "m", "type": "quantitative",
    "axis": {"orient": "right", "values": [-0.2, 0, 0.2, 0.4, 0.6], "format": ".1f", "labelOverlap": false, "grid": true, "title": null, "labelPadding": 3}},
   "color": {"datum": "MACD(12,26,9) 0.389,",
    "scale": {"domain": ["MACD(12,26,9) 0.389,", "0.325,", "0.065"], "range": ["#111", "#ee3a3a", "#4a8ac4"]},
    "legend": {"orient": "top-left", "offset": 2, "title": null, "direction": "horizontal", "symbolType": "stroke", "symbolSize": 30, "symbolStrokeWidth": 1.5, "columnPadding": 2,
     "labelColor": {"expr": "datum.label == '0.325,' ? '#e83030' : datum.label == '0.065' ? '#3a7ab8' : '#444'"}}}}}
]
}
],
"resolve": {"scale": {"color": "independent"}, "legend": {"color": "independent"}},
"config": {
 "view": {"stroke": "#a0a0a0"},
 "font": "DejaVu Sans",
 "axis": {"labelFont": "DejaVu Sans", "labelFontSize": 7, "labelColor": "#333", "domain": false, "ticks": false, "gridColor": "#e6e6e6"},
 "legend": {"labelFont": "DejaVu Sans Mono", "labelFontSize": 6.5, "labelColor": "#444", "padding": 0, "rowPadding": 0.5, "labelOffset": 2}
}
}
